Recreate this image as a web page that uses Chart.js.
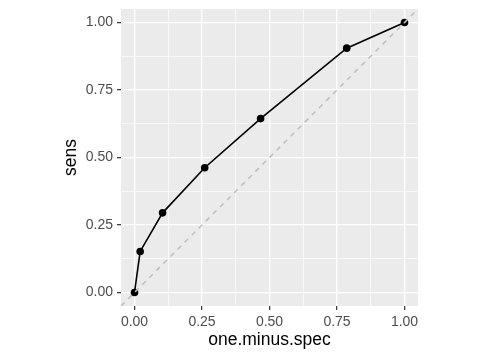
<!DOCTYPE html><html>
<meta charset="UTF-8">
<script src="https://cdn.jsdelivr.net/npm/chart.js@4/dist/chart.umd.min.js"></script>
<style>body{margin:0;background:#fff}</style>
<canvas id="roc" width="480" height="360"></canvas>
<script>
// ROC points
var oneMinusSpec = [0, 0.021, 0.104, 0.26, 0.467, 0.786, 1];
var sens = [0, 0.152, 0.295, 0.462, 0.644, 0.905, 1];
var majorTicks = [0, 0.25, 0.5, 0.75, 1];
var minorTicks = [0.125, 0.375, 0.625, 0.875];
var axisMin = -0.05, axisMax = 1.05;

var allTicks = majorTicks.concat(minorTicks).sort(function(a,b){return a-b;});
function isMajor(v){ return majorTicks.some(function(m){return Math.abs(m-v)<1e-9;}); }

var rocPts = oneMinusSpec.map(function(x,i){ return {x:x, y:sens[i]}; });
var diag = [{x:axisMin,y:axisMin},{x:axisMax,y:axisMax}];

var panelBg = {
  id:'panelBg',
  beforeDraw:function(chart){
    var a = chart.chartArea, c = chart.ctx;
    c.save(); c.fillStyle = '#EBEBEB';
    c.fillRect(a.left, a.top, a.right-a.left, a.bottom-a.top);
    c.restore();
  }
};

function axis(title, fitFn, titlePad){
  return {
    type:'linear', min:axisMin, max:axisMax,
    afterBuildTicks:function(s){ s.ticks = allTicks.map(function(v){return {value:v};}); },
    afterFit:fitFn,
    border:{display:false},
    grid:{
      color:'#FFFFFF',
      lineWidth:function(c){ return c.tick && isMajor(c.tick.value) ? 1.3 : 0.65; },
      drawTicks:true, tickLength:4,
      tickColor:function(c){ return c.tick && isMajor(c.tick.value) ? '#333333' : 'rgba(0,0,0,0)'; },
      tickWidth:1.2
    },
    ticks:{
      autoSkip:false, maxRotation:0, padding:4,
      color:'#4D4D4D', font:{family:'Liberation Sans', size:14},
      callback:function(v){ return isMajor(v) ? v.toFixed(2) : ''; }
    },
    title:{display:true, text:title, color:'#000000',
      font:{family:'Liberation Sans', size:17.5}, padding:titlePad}
  };
}

new Chart(document.getElementById('roc'), {
  type:'scatter',
  data:{
    datasets:[
      {data:diag, showLine:true, borderColor:'#BEBEBE', borderWidth:1.5,
       borderDash:[5,5], pointRadius:0, order:0},
      {data:rocPts, showLine:true, borderColor:'#000000', borderWidth:1.6,
       pointRadius:3.8, pointBackgroundColor:'#000000', pointBorderWidth:0, order:1}
    ]
  },
  options:{
    responsive:false, animation:false, devicePixelRatio:1,
    layout:{padding:{top:9, right:62, left:0, bottom:0}},
    plugins:{legend:{display:false}, tooltip:{enabled:false}},
    scales:{
      x:axis('one.minus.spec', function(s){ s.height = 54; s.paddingLeft = 0; s.paddingRight = 0; }, {top:0, bottom:9.5}),
      y:axis('sens', function(s){ s.width = 121; s.paddingTop = 0; s.paddingBottom = 0; }, {top:61, bottom:0})
    }
  },
  plugins:[panelBg]
});
</script>
</html>
